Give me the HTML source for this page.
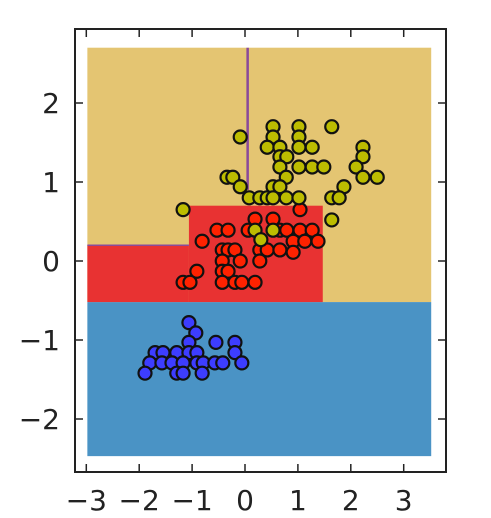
<!DOCTYPE html>
<html><head><meta charset="utf-8"><style>
html,body{margin:0;padding:0;background:#fff;}
svg{display:block;font-family:"DejaVu Sans","Liberation Sans",sans-serif;}
</style></head><body>
<svg id="chart" width="491" height="518" viewBox="0 0 491 518"></svg>
<script>
const xTicks=[-3,-2,-1,0,1,2,3];
const yTicks=[-2,-1,0,1,2];
const meshX=[-2.98,3.52];
const meshY=[-2.47,2.70];
const blueTop=-0.52;
const redLeft=[-2.98,-1.06,-0.52,0.2];
const redMid=[-1.06,1.47,-0.52,0.7];
const splitLine=[0.05,0.9,2.7];
const blueX=[-1.06,-0.93,-1.06,-0.55,-0.19,-1.70,-1.55,-1.29,-1.06,-0.91,-0.19,-1.80,-1.57,-1.38,-1.17,-0.91,-0.79,-0.57,-0.42,-0.06,-1.89,-1.29,-1.17,-0.81];
const blueY=[-0.78,-0.91,-1.03,-1.03,-1.03,-1.16,-1.16,-1.16,-1.16,-1.16,-1.16,-1.29,-1.29,-1.29,-1.29,-1.29,-1.29,-1.29,-1.29,-1.29,-1.42,-1.42,-1.42,-1.42];
const redX=[1.04,0.19,0.53,-0.53,-0.32,0.06,0.66,0.79,1.04,1.27,-0.81,0.91,1.13,1.38,-0.43,-0.32,-0.19,0.28,0.42,0.66,0.91,-0.43,-0.09,0.28,-0.91,-0.43,-0.32,-1.17,-1.04,-0.43,-0.19,-0.06,0.19];
const redY=[0.65,0.53,0.53,0.39,0.39,0.39,0.39,0.39,0.39,0.39,0.25,0.25,0.25,0.25,0.14,0.14,0.14,0.14,0.14,0.14,0.11,0,0,0,-0.13,-0.13,-0.13,-0.27,-0.27,-0.27,-0.27,-0.27,-0.27];
const yelX=[0.53,1.02,1.64,-0.09,0.53,1.02,0.42,0.66,1.02,1.27,2.23,0.66,0.79,2.23,0.66,1.02,1.27,1.49,2.10,-0.34,-0.23,0.78,2.23,2.50,-0.09,0.53,0.66,1.87,0.08,0.28,0.42,0.53,0.78,1.02,1.64,1.78,-1.17,1.64,0.19,0.53,0.30];
const yelY=[1.70,1.70,1.70,1.57,1.57,1.57,1.44,1.44,1.44,1.44,1.44,1.32,1.32,1.32,1.19,1.19,1.19,1.19,1.19,1.06,1.06,1.06,1.06,1.06,0.94,0.94,0.94,0.94,0.80,0.80,0.80,0.80,0.80,0.80,0.80,0.80,0.65,0.52,0.39,0.39,0.27];

const NS='http://www.w3.org/2000/svg';
const svg=document.getElementById('chart');
const X0=245,XS=52.9,Y0=261,YS=79;
const sx=v=>X0+v*XS, sy=v=>Y0-v*YS;
const L=75,R=446,T=29,B=472;
function mk(tag,attrs,parent){const e=document.createElementNS(NS,tag);for(const k in attrs)e.setAttribute(k,attrs[k]);(parent||svg).appendChild(e);return e;}
function rect(x1,x2,y1,y2,fill){return mk('rect',{x:sx(x1),y:sy(y2),width:sx(x2)-sx(x1),height:sy(y1)-sy(y2),fill:fill});}

let r=rect(meshX[0],meshX[1],blueTop,meshY[1],'#e4c572');


r=rect(meshX[0],meshX[1],meshY[0],blueTop,'#4a93c5');


r=rect(redLeft[0],redLeft[1],redLeft[2],redLeft[3],'#e83232');


r=rect(redMid[0],redMid[1],redMid[2],redMid[3],'#e83232');


let ln=mk('line',{x1:sx(splitLine[0]),x2:sx(splitLine[0]),y1:sy(splitLine[1]),y2:sy(splitLine[2]),stroke:'#8a4a9a','stroke-width':2.5});


ln=mk('line',{x1:sx(redLeft[0]),x2:sx(redLeft[1]),y1:sy(redLeft[3]),y2:sy(redLeft[3]),stroke:'#8a4a9a','stroke-width':1.5});



function pts(xs,ys,fill,name){
  const g=mk('g',{});
  
  
  for(let i=0;i<xs.length;i++){
    const c=mk('circle',{cx:sx(xs[i]),cy:sy(ys[i]),r:6.5,fill:fill,stroke:'#111','stroke-width':2.2},g);
    
    
  }
}
pts(blueX,blueY,'#3d3dff','class-0-points');
pts(redX,redY,'#ff2200','class-1-points');
pts(yelX,yelY,'#bcbc00','class-2-points');

const fr=mk('rect',{x:L,y:T,width:R-L,height:B-T,fill:'none',stroke:'#222','stroke-width':2});


xTicks.forEach(t=>{
  const x=sx(t);
  mk('line',{x1:x,x2:x,y1:B,y2:B-8,stroke:'#222','stroke-width':1.5});
  mk('line',{x1:x,x2:x,y1:T,y2:T+8,stroke:'#222','stroke-width':1.5});
  const tx=mk('text',{x:x,y:B+38,'text-anchor':'middle','font-size':28,fill:'#222'});
  tx.textContent=(t<0?'\u2212'+(-t):String(t));
  
  
});
yTicks.forEach(t=>{
  const y=sy(t);
  mk('line',{x1:L,x2:L+8,y1:y,y2:y,stroke:'#222','stroke-width':1.5});
  mk('line',{x1:R,x2:R-8,y1:y,y2:y,stroke:'#222','stroke-width':1.5});
  const tx=mk('text',{x:L-15,y:y+10,'text-anchor':'end','font-size':28,fill:'#222'});
  tx.textContent=(t<0?'\u2212'+(-t):String(t));
  
  
});
</script>
</body></html>
